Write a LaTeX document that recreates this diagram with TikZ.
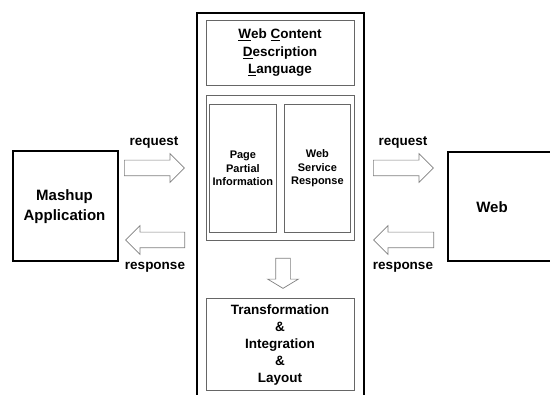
\documentclass[tikz,border=0pt]{standalone}
\usepackage{fontspec}
\setmainfont{Liberation Sans}
\usetikzlibrary{shapes.arrows}
\begin{document}
\begin{tikzpicture}[x=1pt,y=-1pt,
  every node/.style={font=\bfseries},
  frame/.style={draw=black, line width=1.6pt, anchor=north west, inner sep=0pt},
  ibox/.style={draw=black!60, line width=0.8pt, anchor=north west, inner sep=0pt},
  txt/.style={align=center, inner sep=0pt},
  blockarrow/.style={single arrow, draw=black!50, fill=white, line width=0.7pt,
     inner sep=7.5pt, single arrow head extend=6.5pt, anchor=tail},
  lbl/.style={font=\fontsize{13.5}{16}\selectfont\bfseries, inner sep=0pt}
]
\useasboundingbox (0,0) rectangle (550,395);
\clip (0,0) rectangle (550,395);
\fill[white] (0,0) rectangle (550,395);

% main frame (extends below the picture)
\node[frame, minimum width=167pt, minimum height=400pt] (main) at (196,12) {};

% WCDL box
\node[ibox, minimum width=148pt, minimum height=65pt] (wcdl) at (206,20) {};
\node[txt, font=\fontsize{13.5}{17.5}\selectfont\bfseries] (wcdlt) at (280,53)
  {\underline{W}eb \underline{C}ontent\\\underline{D}escription\\\underline{L}anguage};

% container
\node[ibox, minimum width=148pt, minimum height=145pt] (cont) at (206,95) {};
\node[ibox, minimum width=67pt, minimum height=128pt] (ppi) at (209,104) {};
\node[ibox, minimum width=66pt, minimum height=128pt] (wsr) at (284,104) {};
\node[txt, font=\fontsize{11}{13.5}\selectfont\bfseries] at (ppi.center) {Page\\Partial\\Information};
\node[txt, font=\fontsize{11}{13.5}\selectfont\bfseries] at (wsr.center) {Web\\Service\\Response};

% down arrow
\node[blockarrow, shape border rotate=270, minimum height=30pt, inner sep=7pt,
      single arrow head extend=8pt, single arrow tip angle=118] (down) at (283,258) {};

% bottom box
\node[ibox, minimum width=148pt, minimum height=92pt] (til) at (206,298) {};
\node[txt, font=\fontsize{13.5}{17}\selectfont\bfseries] at (280,345)
  {Transformation\\\&\\Integration\\\&\\Layout};

% Mashup
\node[frame, minimum width=105pt, minimum height=110pt] (mashup) at (12,150) {};
\node[txt, font=\fontsize{15}{20}\selectfont\bfseries] at (64.5,207) {Mashup\\Application};

% Web
\node[frame, minimum width=130pt, minimum height=109pt] (web) at (447,151) {};
\node[txt, font=\fontsize{15}{20}\selectfont\bfseries] at (492,207) {Web};

% arrows
\node[blockarrow, minimum height=60pt] (reqL) at (124,168) {};
\node[blockarrow, minimum height=59pt, shape border rotate=180] (resL) at (185,240) {};
\node[blockarrow, minimum height=60pt] (reqR) at (373,168) {};
\node[blockarrow, minimum height=60pt, shape border rotate=180] (resR) at (434,240) {};

\node[lbl] at (154,143) {request};
\node[lbl] at (155,267) {response};
\node[lbl] at (403,143) {request};
\node[lbl] at (403,267) {response};
\end{tikzpicture}
\end{document}
